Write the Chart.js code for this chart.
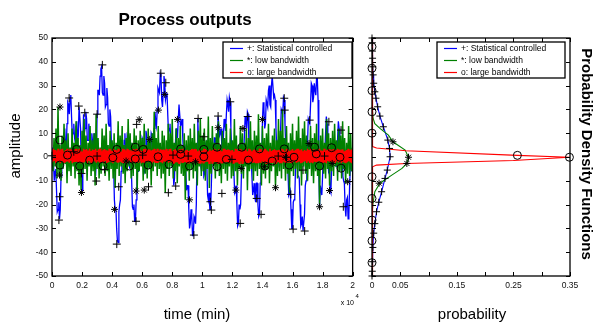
<!DOCTYPE html>
<html>
<head>
<meta charset="utf-8">
<script src="https://cdn.jsdelivr.net/npm/chart.js@4.4.1/dist/chart.umd.min.js"></script>
<style>
  html, body { margin: 0; padding: 0; background: #fff; }
  #wrap { position: relative; width: 593px; height: 323px; overflow: hidden; }
  #left { position: absolute; left: 0; top: 0; }
  #right { position: absolute; left: 360px; top: 0; }
</style>
</head>
<body>
<div id="wrap">
  <canvas id="left" width="360" height="323"></canvas>
  <canvas id="right" width="233" height="323"></canvas>
</div>
<script>
// ---- data ----
const timeTickValues = [0, 0.2, 0.4, 0.6, 0.8, 1, 1.2, 1.4, 1.6, 1.8, 2];
const timeTickLabels = ['0', '0.2', '0.4', '0.6', '0.8', '1', '1.2', '1.4', '1.6', '1.8', '2'];
const ampTickValues = [-50, -40, -30, -20, -10, 0, 10, 20, 30, 40, 50];
const probTickValues = [0, 0.05, 0.1, 0.15, 0.2, 0.25, 0.3, 0.35];
const probTickLabels = ['0', '0.05', '', '0.15', '', '0.25', '', '0.35'];
const legendLabels = ['+: Statistical controlled', '*: low bandwidth', 'o: large bandwidth'];

// statistical controlled output (time 0..2 x 10^4 min)
const blueSignal = [
  1, 4, -3, -10, -6, -5, -14, -23, -22, -19, -26, -22, -8, 4, 6, 3, 10, 12, 4, 4,
  14, 23, 22, 18, 25, 26, 17, 9, 10, 14, 8, 6, 13, 15, 6, 9, 21, 21, 12, -6,
  -14, 7, 18, 10, 12, 19, 16, 7, 7, 14, 11, 2, 3, 10, 6, 3, 10, 6, -8, 0,
  18, 28, 28, 26, 34, 37, 38, 27, 26, 34, 31, 21, 22, 29, 25, 14, 13, 20, 17, 6,
  5, 6, -4, -18, -22, -21, -30, -35, -36, -23, -20, -18, -6, 4, 3, 0, 7, 10, 2, 1,
  9, 8, -3, -4, 6, 3, -10, -21, -22, -20, -27, -27, -18, -7, -6, -6, 4, 6, -2, -2,
  8, 7, -5, -6, 3, 11, 9, -3, -4, 6, 6, 3, 10, 9, -3, 0, 12, 19, 15, 13,
  20, 29, 28, 27, 35, 34, 24, 21, 27, 34, 31, 24, 26, 27, 18, 10, 12, 14, 6, -3,
  -2, -2, -12, -9, 4, 12, 10, 8, 16, 22, 22, 13, 14, 16, 8, 1, 3, 4, -6, -14,
  -12, -12, -22, -30, -28, -22, -25, -33, -33, -25, -26, -28, -20, 3, 16, 6, 6, 6, -4, -6,
  3, 3, -8, -7, 5, 6, -3, -16, -18, -15, -22, -22, -12, 0, 2, 0, 8, 8, -2, -3,
  6, 17, 17, 9, 10, 12, 4, 1, 8, 16, 14, 11, 18, 24, 22, 19, 25, 23, 12, 3,
  3, 4, -6, -15, -14, -12, -20, -29, -28, -20, -22, -20, -8, 2, 2, 1, 9, 17, 15, 12,
  19, 18, 6, -3, -2, 0, -8, -16, -14, -11, -17, -19, -11, -11, -20, -25, -24, -11, -8, -2,
  15, 23, 20, 12, 14, 24, 24, 21, 28, 30, 22, 21, 30, 34, 34, 25, 26, 24, 12, 4,
  6, 7, -3, -2, 10, 20, 20, 18, 25, 24, 14, 4, 4, 4, -6, -16, -15, -14, -22, -30,
  -30, -19, -18, -17, -5, 4, 3, -8, -8, -9, -20, -29, -28, -25, -31, -31, -24, -12, -10, -7,
  6, 16, 15, 14, 22, 31, 30, 23, 25, 31, 28, 26, 33, 33, 24, -4, -21, -12, -14, -16,
  -8, 3, 4, 2, 10, 17, 14, -1, -6, -5, -14, -15, -5, 6, 6, -1, 2, 4, -4, -3,
  8, 15, 12, 0, -3, 6, 5, -8, -10, -11, -21, -25, -18, -17, -26, -24, -12, -3, -4, -6,
  2
];

// low bandwidth output
const greenSignal = [
  3, -6, 8, -4, 12, -9, 21, -7, 5, -10,
  9, -5, 14, -3, 7, -11, 10, -6, 4, -8,
  12, -4, 6, -9, 15, -6, 8, -12, 5, -14,
  11, -7, 16, -5, 9, -10, 6, -4, 13, -8,
  7, -6, 10, -12, 18, -5, 8, -9, 4, -7,
  12, -4, 9, -8, 14, -6, 5, -10, 11, -5,
  7, -9, 10, -13, 6, -5, 15, -8, 9, -4,
  13, -7, 5, -11, 8, -6, 16, -4, 10, -9,
  6, -8, 12, -5, 9, -14, 7, -6, 11, -4,
  8, -10, 14, -7, 5, -9, 12, -5, 7, -12,
  10, -6, 19, -4, 8, -8, 13, -5, 6, -9,
  11, -7, 9, -15, 7, -5, 14, -8, 10, -4,
  16, -9, 6, -6, 12, -11, 8, -4, 13, -7,
  5, -8, 10, -18, 7, -6, 9, -10, 12, -5,
  8, -9, 14, -6, 6, -12, 11, -4, 16, -8,
  9, -6, 12, -10, 7, -5, 17, -13, 8, -7,
  13, -4, 6, -9, 10, -6, 15, -8, 5, -11,
  11, -5, 8, -7, 14, -10, 6, -4, 12, -9,
  7, -8, 16, -6, 9, -12, 5, -5, 13, -7,
  10, -9, 6, -4, 12, -14, 8, -6, 15, -5,
  7, -10, 11, -6, 9, -8, 18, -5, 6, -12,
  13, -7, 8, -9, 10, -5, 14, -11, 6, -6,
  9, -4, 12, -13, 7, -8, 16, -6, 11, -9,
  20, -5, 8, -10, 13, -7, 6, -15, 10, -6,
  14, -8, 7, -5, 11, -9, 17, -6, 8, -12,
  12, -4, 15, -7, 9, -10, 6, -5, 13, -8,
  8, -11, 10, -6, 14, -8, 7, -20, 9, -5,
  12, -7, 6, -9, 16, -5, 10, -12, 8, -6,
  11, -8, 14, -4, 7, -10, 12, -6, 9, -9,
  15, -5, 8, -11, 6, -7, 13, -8, 10, -6,
  4
];

// large bandwidth output
const redSignal = [
  3.1, -2.2, 3.4, -1.7, 2.9, -2.5, 2.4, -2.0, 3.5, -1.9,
  2.7, -2.6, 3.2, -1.8, 3.4, -2.3, 2.3, -2.5, 2.9, -2.0,
  3.5, -1.9, 2.6, -2.4, 3.3, -1.6, 3.0, -2.6, 2.5, -2.2,
  3.2, -2.1, 3.5, -2.0, 2.4, -2.5, 3.4, -2.2, 2.8, -2.6,
  2.3, -2.4, 3.4, -2.2, 3.0, -1.8, 3.3, -2.5, 2.7, -1.7,
  3.5, -2.3, 2.5, -2.6, 3.1, -2.0, 2.9, -1.8, 3.4, -2.4,
  2.6, -1.9, 3.2, -2.3, 3.5, -2.5, 2.4, -2.1, 3.0, -2.6,
  3.3, -1.7, 2.8, -2.5, 2.5, -2.2, 3.5, -1.9, 3.1, -2.2,
  2.5, -2.6, 3.3, -2.0, 2.9, -1.9, 2.6, -2.4, 3.5, -2.3,
  3.0, -2.0, 2.3, -2.4, 3.4, -2.6, 3.2, -1.8, 2.7, -2.5,
  3.4, -2.2, 3.0, -1.6, 2.8, -2.5, 2.4, -2.2, 3.3, -2.0,
  2.9, -2.6, 3.5, -2.1, 2.4, -2.4, 3.1, -1.9, 2.6, -2.6,
  2.5, -2.3, 3.3, -2.5, 3.5, -1.8, 2.8, -2.2, 3.2, -1.7,
  3.1, -1.8, 2.7, -2.6, 3.0, -2.0, 3.4, -2.4, 2.5, -2.5,
  3.5, -2.5, 2.4, -2.0, 3.2, -2.2, 2.9, -2.6, 3.1, -1.9,
  2.8, -2.1, 3.4, -1.7, 2.5, -2.4, 3.3, -2.0, 3.5, -2.3,
  2.4, -2.6, 2.9, -2.5, 3.2, -1.9, 2.6, -2.3, 3.0, -2.6,
  3.3, -1.9, 3.1, -2.2, 3.5, -2.4, 2.3, -1.8, 2.8, -2.5,
  3.0, -2.4, 2.5, -2.6, 2.9, -2.0, 3.4, -2.2, 3.2, -1.9,
  3.4, -2.0, 3.2, -1.8, 2.4, -2.6, 3.1, -2.5, 2.6, -2.2,
  2.7, -2.4, 3.5, -2.3, 3.3, -1.7, 2.9, -2.0, 2.4, -2.6,
  3.2, -1.9, 2.6, -2.5, 3.0, -2.2, 3.5, -1.8, 3.1, -2.4,
  2.5, -2.6, 3.3, -2.0, 2.8, -2.4, 2.4, -2.6, 3.4, -2.1,
  3.5, -2.2, 2.9, -1.8, 3.2, -2.5, 3.0, -2.0, 2.7, -1.7,
  2.9, -2.5, 2.3, -2.4, 3.4, -2.0, 3.3, -2.3, 2.5, -2.6,
  3.3, -1.8, 3.1, -2.6, 2.6, -2.2, 2.9, -1.9, 3.5, -2.4,
  2.4, -2.2, 3.5, -2.0, 3.1, -1.8, 2.4, -2.5, 3.0, -2.0,
  3.1, -2.6, 2.8, -2.3, 2.5, -2.4, 3.4, -2.1, 3.3, -1.7,
  2.6, -2.0, 3.3, -1.9, 3.5, -2.6, 2.7, -2.4, 2.3, -2.2,
  3.5, -2.4, 2.5, -2.2, 2.9, -1.8, 3.2, -2.6, 2.8, -2.5,
  2.8, -1.8, 3.0, -2.6, 2.7, -2.3, 3.5, -1.9, 3.1, -2.0,
  2.4, -2.5, 3.4, -2.1, 3.3, -2.0, 2.5, -2.5, 2.8, -2.6,
  3.3, -2.2, 2.6, -1.7, 3.0, -2.4, 3.4, -2.2, 3.5, -1.9,
  2.8, -2.6, 3.2, -2.4, 2.4, -2.0, 2.9, -1.8, 2.6, -2.5,
  3.4, -1.9, 2.9, -2.5, 3.5, -2.3, 2.3, -2.6, 3.2, -2.0,
  3.0, -2.2, 2.5, -2.0, 3.1, -1.8, 3.4, -2.4, 2.7, -2.4,
  2.5, -2.5, 3.5, -2.2, 2.6, -2.6, 3.0, -1.7, 3.3, -2.1,
  3.2, -2.0, 2.7, -2.4, 3.3, -2.2, 2.4, -2.6, 2.9, -1.8,
  3.5, -2.3, 3.1, -1.9, 2.8, -2.6, 3.2, -2.0, 2.3, -2.4,
  2.6, -2.6, 2.9, -2.2, 3.4, -1.8, 2.7, -2.3, 3.1, -2.6,
  2.5
];

// sample markers on the time plot: [time, amplitude]
const plusMarks = [
  [0.0, 0.5], [0.046, -26.5], [0.05, -16.7], [0.114, 24.8], [0.145, 2.2], [0.178, 21.4],
  [0.196, -6.9], [0.218, 18.6], [0.30, 18], [0.30, 0.4], [0.295, -10.1], [0.335, 38.7],
  [0.35, -5.2], [0.431, -36.6], [0.444, -12.5], [0.559, -27], [0.563, 13.7], [0.603, 0.8],
  [0.642, -12.5], [0.724, 35.2], [0.757, 31.2], [0.774, -15], [0.805, 0.8], [0.823, -12.2],
  [0.906, 0.4], [0.944, -32.8], [0.972, 16.2], [1.01, 8.5], [1.054, -18.8], [1.06, -22.3],
  [1.105, 17.2], [1.13, -15.3], [1.186, 23.2], [1.197, -1], [1.252, -27.9], [1.302, 17],
  [1.362, -17.4], [1.391, -24.1], [1.505, 0.4], [1.545, 24.7], [1.548, 19.7], [1.56, -0.1],
  [1.589, -15.7], [1.604, -30.3], [1.67, -5.5], [1.681, -31.1], [1.714, 15.5], [1.813, 0.4],
  [1.842, 14.8], [1.923, 11.3], [1.938, -20.9]
];
const starMarks = [
  [0.053, 21], [0.05, -7.6], [0.196, -14.9], [0.416, -22], [0.493, -1.7], [0.559, -14.3],
  [0.58, 15.7], [0.614, -13.9], [0.65, 7.4], [0.708, 19.7], [0.75, 26.3], [0.834, 15.8],
  [0.915, -18], [0.955, -2], [1.105, 12.3], [1.223, -13.9], [1.259, -4.8], [1.27, 12],
  [1.40, 15.8], [1.413, -4.1], [1.487, -12.9], [1.553, -0.1], [1.71, 5.7], [1.78, -20.9],
  [1.846, -14.1], [1.864, -2.7], [1.967, -10.4]
];
const circleMarks = [
  [0.053, 7.1], [0.052, -3.4], [0.103, 0.8], [0.163, 3.2], [0.185, -3.8], [0.251, -1.3],
  [0.339, -3.8], [0.405, -0.3], [0.431, 3.2], [0.515, -3.8], [0.554, 4.1], [0.554, -0.8],
  [0.607, 3.2], [0.64, -3.4], [0.706, 0.1], [0.779, -3.1], [0.856, 3.4], [0.856, 1.1],
  [0.915, -3.8], [1.01, 3.2], [1.01, 0.1], [1.098, 4.1], [1.098, -4.0], [1.16, -1.0],
  [1.263, 4.1], [1.307, -1.3], [1.38, 3.4], [1.417, -3.8], [1.465, -1.7], [1.545, 3.4],
  [1.578, -3.4], [1.61, -0.1], [1.747, 4.1], [1.758, 1.3], [1.78, -3.8], [1.86, 3.9],
  [1.916, -0.1], [1.923, -4.7]
];

// probability density functions (amplitude vs probability)
const pdfBlueAmp  = [50, 48, 44.5, 41.5, 37.9, 34.5, 31, 27.4, 24.7, 21.1, 17.2, 12.7, 7.1, 3.6, 0.1, -5.5, -9, -14.6, -19, -23, -28, -32, -38, -44, -48, -50];
const pdfBlueProb = [0, 0.0005, 0.0008, 0.001, 0.0015, 0.002, 0.003, 0.005, 0.007, 0.010, 0.014, 0.020, 0.028, 0.031, 0.032, 0.027, 0.023, 0.017, 0.012, 0.008, 0.005, 0.003, 0.0015, 0.001, 0.0005, 0];
const pdfGreenAmp  = [50, 22, 16.2, 14, 12, 9.2, 6.4, 2.9, -0.1, -2.7, -4.8, -7.6, -11, -14.6, -19, -24, -50];
const pdfGreenProb = [0, 0, 0.002, 0.005, 0.014, 0.029, 0.037, 0.0586, 0.0645, 0.0616, 0.053, 0.035, 0.014, 0.005, 0.002, 0, 0];
const pdfGreenStarAmp  = [6.4, -0.1, -2.7, -11];
const pdfGreenStarProb = [0.037, 0.0645, 0.0616, 0.0125];
const pdfRedAmp  = [50, 4.4, 3.8, 2.6, 0.7, -0.1, -1.5, -2.7, -3.4, -4.1, -50];
const pdfRedProb = [0.001, 0.001, 0.008, 0.06, 0.257, 0.349, 0.25, 0.06, 0.008, 0.001, 0.001];
const pdfCircleAmp  = [46.3, 37.3, 27.9, 19, 10, 0.7, -0.1, -8.3, -17.4, -26.5, -35.2, -44.4];
const pdfCircleProb = [0, 0, 0, 0, 0, 0.257, 0.349, 0, 0, 0, 0, 0];

// ---- helpers ----
const FONT = '"Liberation Sans", Arial, Helvetica, sans-serif';
const BLUE = '#0000ff', GREEN = '#008000', RED = '#ff0000';

function onTimeGrid(values) {
  const n = values.length;
  return values.map((v, i) => ({ x: i * 2 / (n - 1), y: v }));
}
function pairs(list) {
  return list.map(p => ({ x: p[0], y: p[1] }));
}
function zipXY(xs, ys) {
  return xs.map((x, i) => ({ x: x, y: ys[i] }));
}
function lineSet(data, color, width, order) {
  return { data: data, showLine: true, borderColor: color, borderWidth: width,
           pointRadius: 0, fill: false, tension: 0, order: order };
}
function markSet(data, style, radius) {
  return { data: data, showLine: false, pointStyle: style, pointRadius: radius,
           borderColor: '#000', backgroundColor: 'rgba(0,0,0,0)', borderWidth: 1,
           clip: false, order: 0 };
}

function drawLegend(ctx, box) {
  ctx.fillStyle = '#fff';
  ctx.fillRect(box.x, box.y, box.w, box.h);
  ctx.strokeStyle = '#000';
  ctx.lineWidth = 1.3;
  ctx.strokeRect(box.x, box.y, box.w, box.h);
  const colors = [BLUE, GREEN, RED];
  ctx.font = '8.5px ' + FONT;
  ctx.textBaseline = 'middle';
  ctx.textAlign = 'left';
  legendLabels.forEach((txt, i) => {
    const y = box.y + 6.5 + i * 12;
    ctx.strokeStyle = colors[i];
    ctx.lineWidth = 1.2;
    ctx.beginPath();
    ctx.moveTo(box.x + 7, y);
    ctx.lineTo(box.x + 20, y);
    ctx.stroke();
    ctx.fillStyle = '#000';
    ctx.fillText(txt, box.x + 24, y);
  });
}

const matlabFrame = {
  id: 'matlabFrame',
  afterDatasetsDraw(chart, args, o) {
    const ctx = chart.ctx, a = chart.chartArea;
    const sx = chart.scales.x, sy = chart.scales.y;
    ctx.save();
    ctx.strokeStyle = '#000';
    ctx.lineWidth = 1;
    ctx.beginPath();
    o.xTicks.forEach(v => {
      const p = Math.round(sx.getPixelForValue(v)) + 0.5;
      ctx.moveTo(p, a.bottom); ctx.lineTo(p, a.bottom - 4);
      ctx.moveTo(p, a.top); ctx.lineTo(p, a.top + 4);
    });
    o.yTicks.forEach(v => {
      const p = Math.round(sy.getPixelForValue(v)) + 0.5;
      ctx.moveTo(a.left, p); ctx.lineTo(a.left + 4, p);
      ctx.moveTo(a.right, p); ctx.lineTo(a.right - 4, p);
    });
    ctx.stroke();
    ctx.lineWidth = 1.3;
    ctx.strokeRect(a.left, a.top, a.right - a.left, a.bottom - a.top);

    drawLegend(ctx, o.legendBox);

    ctx.fillStyle = '#000';
    o.texts.forEach(t => {
      ctx.save();
      ctx.font = t.font;
      ctx.textAlign = t.align || 'center';
      ctx.textBaseline = t.base || 'alphabetic';
      ctx.translate(t.x, t.y);
      if (t.rot) ctx.rotate(t.rot);
      ctx.fillText(t.text, 0, 0);
      ctx.restore();
    });
    ctx.restore();
  }
};

function axisX(min, max, values, labels, height) {
  return {
    type: 'linear', min: min, max: max,
    afterBuildTicks: s => { s.ticks = values.map(v => ({ value: v })); },
    afterFit: s => { s.height = height; },
    grid: { display: false, drawTicks: false },
    border: { display: false },
    ticks: { autoSkip: false, maxRotation: 0, padding: 5, color: '#111',
             font: { family: FONT, size: 8.5 },
             callback: (v, i) => labels[i] }
  };
}
function axisY(width, showLabels) {
  return {
    type: 'linear', min: -50, max: 50,
    afterBuildTicks: s => { s.ticks = ampTickValues.map(v => ({ value: v })); },
    afterFit: s => { s.width = width; },
    grid: { display: false, drawTicks: false },
    border: { display: false },
    ticks: { display: showLabels, autoSkip: false, padding: 4, color: '#111',
             font: { family: FONT, size: 8.5 } }
  };
}

// ---- left: process outputs ----
new Chart(document.getElementById('left'), {
  type: 'scatter',
  data: {
    datasets: [
      markSet(pairs(circleMarks), 'circle', 4),
      markSet(pairs(plusMarks), 'cross', 4),
      markSet(pairs(starMarks), 'star', 3.5),
      lineSet(onTimeGrid(redSignal), RED, 1.5, 1),
      lineSet(onTimeGrid(greenSignal), GREEN, 1.5, 2),
      lineSet(onTimeGrid(blueSignal), BLUE, 1.3, 3)
    ]
  },
  options: {
    responsive: false,
    animation: false,
    events: [],
    layout: { padding: { top: 38, right: 5, left: 0, bottom: 0 } },
    plugins: {
      legend: { display: false },
      tooltip: { enabled: false },
      matlabFrame: {
        xTicks: timeTickValues,
        yTicks: ampTickValues,
        legendBox: { x: 223, y: 42, w: 129, h: 36 },
        texts: [
          { text: 'Process outputs', x: 185, y: 25, font: 'bold 17px ' + FONT },
          { text: 'amplitude', x: 16, y: 146, font: '15px ' + FONT, rot: -Math.PI / 2, base: 'middle' },
          { text: 'time (min)', x: 197, y: 319, font: '15px ' + FONT },
          { text: 'x 10', x: 354, y: 305, font: '7px ' + FONT, align: 'right' },
          { text: '4', x: 355.5, y: 298, font: '6px ' + FONT, align: 'left' }
        ]
      }
    },
    scales: {
      x: axisX(0, 2, timeTickValues, timeTickLabels, 47),
      y: axisY(52, true)
    }
  },
  plugins: [matlabFrame]
});

// ---- right: probability density functions ----
new Chart(document.getElementById('right'), {
  type: 'scatter',
  data: {
    datasets: [
      markSet(zipXY(pdfCircleProb, pdfCircleAmp), 'circle', 4),
      markSet(zipXY(pdfBlueProb, pdfBlueAmp), 'cross', 3.5),
      markSet(zipXY(pdfGreenStarProb, pdfGreenStarAmp), 'star', 3.5),
      lineSet(zipXY(pdfRedProb, pdfRedAmp), RED, 1.1, 1),
      lineSet(zipXY(pdfGreenProb, pdfGreenAmp), GREEN, 1.1, 2),
      lineSet(zipXY(pdfBlueProb, pdfBlueAmp), BLUE, 1.1, 3)
    ]
  },
  options: {
    responsive: false,
    animation: false,
    events: [],
    layout: { padding: { top: 38, right: 23, left: 0, bottom: 0 } },
    plugins: {
      legend: { display: false },
      tooltip: { enabled: false },
      matlabFrame: {
        xTicks: probTickValues,
        yTicks: ampTickValues,
        legendBox: { x: 77, y: 42, w: 128, h: 36 },
        texts: [
          { text: 'probability', x: 112, y: 319, font: '15px ' + FONT },
          { text: 'Probability Density Functions', x: 226, y: 154, font: 'bold 15px ' + FONT, rot: Math.PI / 2, base: 'middle' }
        ]
      }
    },
    scales: {
      x: axisX(0, 0.35, probTickValues, probTickLabels, 47),
      y: axisY(12, false)
    }
  },
  plugins: [matlabFrame]
});
</script>
</body>
</html>
